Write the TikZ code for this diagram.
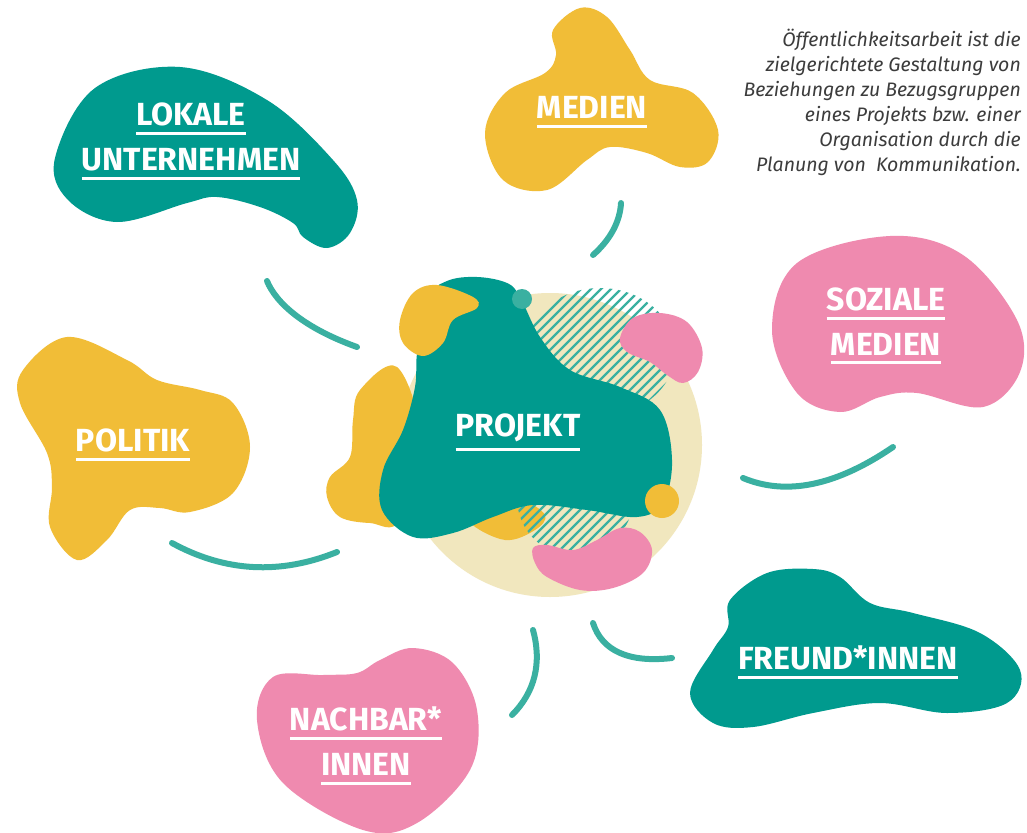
\documentclass[tikz,border=0pt]{standalone}
\usepackage{fontspec}
\setmainfont{Fira Sans}
\usepackage{tikz}
\definecolor{teal}{RGB}{0,154,142}
\definecolor{sun}{RGB}{241,189,55}
\definecolor{rose}{RGB}{239,138,175}
\definecolor{sand}{RGB}{241,231,190}
\definecolor{mint}{RGB}{58,176,161}
\definecolor{note}{RGB}{60,60,60}
\tikzstyle{blob} = [smooth cycle, tension=0.6]
\tikzstyle{link} = [draw=mint, line width=6pt, line cap=round]
\tikzstyle{hatch} = [draw=mint, line width=2.2pt]
\tikzstyle{tag} = [text=white, inner sep=0pt, align=center,
	font=\fontsize{32}{45}\selectfont\bfseries]
\newbox\tagbox
\newcommand{\ulbar}[1]{\setbox\tagbox=\hbox{#1}\vtop{\copy\tagbox\kern6pt
	\hrule height 3pt width \wd\tagbox}}

\begin{document}
\begin{tikzpicture}[x=1pt, y=-1pt]
	\fill[white] (0,0) rectangle (1027,832);
	\useasboundingbox (0,0) rectangle (1027,832);
	
	% links between the groups and the centre
	\coordinate (lk1) at (267,281); \coordinate (lk2) at (357,347);
	\coordinate (md1) at (621,203); \coordinate (md2) at (593,255);
	\coordinate (sm1) at (743,478); \coordinate (sm2) at (893,447);
	\coordinate (fr1) at (593,623); \coordinate (fr2) at (672,658);
	\coordinate (nb1) at (533,630); \coordinate (nb2) at (512,715);
	\coordinate (po1) at (172,543); \coordinate (po2) at (337,552);
	\draw[link] (lk1) .. controls (276,303) and (304,328) .. (lk2);
	\draw[link] (md1) .. controls (620,222) and (610,240) .. (md2);
	\draw[link] (sm1) .. controls (786,496) and (836,486) .. (sm2);
	\draw[link] (fr1) .. controls (602,651) and (629,663) .. (fr2);
	\draw[link] (nb1) .. controls (542,663) and (535,692) .. (nb2);
	\draw[link] (po1) .. controls (225,572) and (280,575) .. (po2);
	
	% outer groups
	\fill[teal] plot[blob] coordinates {(55,158) (95,88) (180,67) (267,100)
		(333,160) (357,200) (350,233) (327,248) (303,237) (293,223) (260,207)
		(217,197) (187,203) (117,222) (68,200)};
	\fill[sun] plot[blob] coordinates {(553,30) (580,8) (607,17) (630,50)
		(650,80) (693,93) (718,130) (708,162) (680,167) (647,153) (610,147)
		(587,160) (547,190) (503,180) (485,133) (505,93) (545,73) (556,55)};
	\fill[rose] plot[blob] coordinates {(890,236) (963,255) (1017,320)
		(1020,372) (983,407) (917,393) (880,397) (840,412) (797,393) (772,330)
		(797,263)};
	\fill[teal] plot[blob] coordinates {(767,573) (813,569) (840,577) (870,603)
		(913,613) (980,633) (1020,670) (1007,703) (947,713) (880,703)
		(813,713) (753,727) (713,723) (690,693) (713,650) (728,627) (730,600)};
	\fill[rose] plot[blob] coordinates {(413,648) (453,663) (477,710) (470,770)
		(417,823) (363,830) (283,783) (257,720) (273,677) (323,675) (357,673)
		(380,660)};
	\fill[sun] plot[blob] coordinates {(67,337) (127,360) (157,380) (200,390)
		(233,403) (250,447) (233,493) (190,512) (160,508) (130,510) (107,540)
		(77,560) (50,527) (52,487) (47,453) (20,403) (23,370)};
	
	% centre
	\fill[sand] (550,445) circle [radius=152];
	\fill[sun] plot[blob] coordinates {(397,367) (420,437) (400,520) (370,523)
		(340,517) (327,497) (330,477) (350,457) (353,420) (360,390)};
	\fill[sun] plot[blob] coordinates {(470,522) (505,540) (535,530) (545,515)
		(520,500) (485,505)};
	\begin{scope}
		\clip (600,352) ellipse [x radius=75, y radius=64]
			(575,498) circle [radius=58];
		\foreach \k in {220,230,...,620}
			\draw[hatch] (\k,580) -- ++(300,-300);
	\end{scope}
	\fill[teal] plot[blob] coordinates {(477,277) (507,283) (520,297) (540,337)
		(570,370) (620,387) (660,410) (672,460) (663,503) (637,517) (587,510)
		(533,505) (493,517) (453,533) (413,537) (382,510) (383,470) (403,430)
		(415,387) (417,353) (425,300) (447,281)};
	\fill[sun] plot[blob] coordinates {(437,285) (473,297) (477,308) (453,320)
		(443,343) (423,356) (403,343) (400,320) (413,293)};
	\fill[rose] plot[blob] coordinates {(620,338) (633,318) (660,313) (687,322)
		(702,348) (698,372) (683,383) (667,375) (650,362) (627,352)};
	\fill[rose] plot[blob] coordinates {(533,548) (547,545) (573,550) (597,540)
		(620,528) (640,532) (652,550) (643,573) (613,588) (580,590) (547,577)
		(535,563)};
	\fill[sun] (662,501) circle [radius=17];
	\fill[mint] (522,299) circle [radius=10];
	
	% labels
	\node (projekt)[tag] at (518,432) {\ulbar{PROJEKT}};
	\node (lokale)[tag] at (191,141) {\ulbar{LOKALE}\\\ulbar{UNTERNEHMEN}};
	\node (medien)[tag] at (592,112) {\ulbar{MEDIEN}};
	\node (soziale)[tag] at (886,326) {\ulbar{SOZIALE}\\\ulbar{MEDIEN}};
	\node (freunde)[tag] at (848,662) {\ulbar{FREUND*INNEN}};
	\node (nachbarn)[tag] at (366,746) {\ulbar{NACHBAR*}\\\ulbar{INNEN}};
	\node (politik)[tag] at (133,445) {\ulbar{POLITIK}};
	
	\node (def)[anchor=north east, align=right, text=note, inner sep=0pt,
		font=\fontsize{19.5}{25}\selectfont\itshape] at (1021,29)
		{Öffentlichkeitsarbeit ist die\\zielgerichtete Gestaltung von\\
		Beziehungen zu Bezugsgruppen\\eines Projekts bzw. einer\\
		Organisation durch die\\Planung von \ Kommunikation.};
\end{tikzpicture}
\end{document}
